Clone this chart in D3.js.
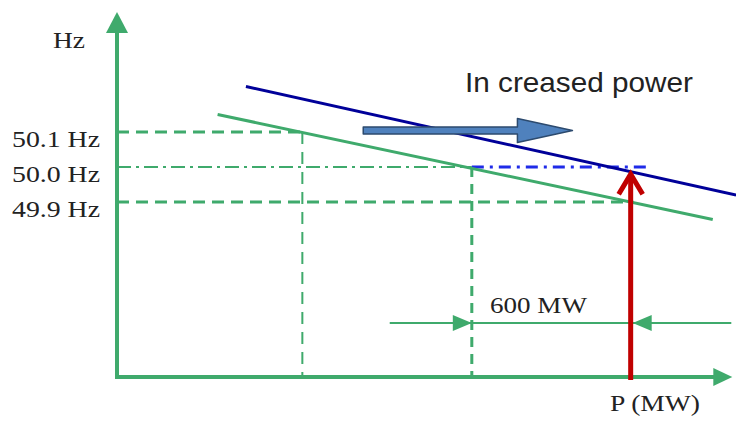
<!DOCTYPE html>
<html>
<head>
<meta charset="utf-8">
<script src="https://cdn.jsdelivr.net/npm/d3@7"></script>
<style>
  html, body { margin: 0; padding: 0; background: #fff; }
  svg { display: block; }
</style>
</head>
<body>
<svg id="chart" width="736" height="421"></svg>
<script>
// ---- data ----
const freqLevels = [50.1, 50.0, 49.9];
const freqLabels = ["50.1 Hz", "50.0 Hz", "49.9 Hz"];
const powerMarks = [700, 1340, 1940];          // MW: old setpoint, before, after (+600 MW)
const droopOld = [{p: 380, f: 50.15}, {p: 2250, f: 49.85}];
const droopNew = [{p: 487, f: 50.23}, {p: 2338, f: 49.92}];
const blueRefEnd = 2015;                        // end of blue 50.0 Hz reference
const line499End = 1950;
const shiftArrow = {p0: 930, p1: 1720, f: 50.1};
const dimLine = {p0: 1030, p1: 2320, label: "600 MW"};
const axisMax = {p: 2320, f: 50.44};
const axisLabels = {y: "Hz", x: "P (MW)", note: "In creased power"};

// ---- scales ----
const x = d3.scaleLinear().domain([0, 2300]).range([117, 726]);
const y = d3.scaleLinear().domain([49.4, 50.44]).range([377, 13]);

const svg = d3.select("#chart");
const GREEN = "#3FAA6C", BLUE = "#000099", BRIGHT = "#1F2BE8", RED = "#C00000";
const serif = "'Liberation Serif', 'Times New Roman', serif";

// reference horizontal lines
svg.append("line").attr("x1", x(0)).attr("x2", x(powerMarks[0]))
  .attr("y1", y(freqLevels[0])).attr("y2", y(freqLevels[0]))
  .attr("stroke", GREEN).attr("stroke-width", 3).attr("stroke-dasharray", "12,7");
svg.append("line").attr("x1", x(0)).attr("x2", x(powerMarks[1]))
  .attr("y1", y(freqLevels[1])).attr("y2", y(freqLevels[1]))
  .attr("stroke", GREEN).attr("stroke-width", 2).attr("stroke-dasharray", "14,5,3,5");
svg.append("line").attr("x1", x(0)).attr("x2", x(line499End))
  .attr("y1", y(freqLevels[2])).attr("y2", y(freqLevels[2]))
  .attr("stroke", GREEN).attr("stroke-width", 3).attr("stroke-dasharray", "12,7");
svg.append("line").attr("x1", x(powerMarks[1])).attr("x2", x(blueRefEnd))
  .attr("y1", y(freqLevels[1])).attr("y2", y(freqLevels[1]))
  .attr("stroke", BRIGHT).attr("stroke-width", 3).attr("stroke-dasharray", "12,6,3,6");

// vertical dashed lines
svg.append("line").attr("x1", x(powerMarks[0])).attr("x2", x(powerMarks[0]))
  .attr("y1", y(freqLevels[0])).attr("y2", y(49.4))
  .attr("stroke", GREEN).attr("stroke-width", 2).attr("stroke-dasharray", "12,8");
svg.append("line").attr("x1", x(powerMarks[1])).attr("x2", x(powerMarks[1]))
  .attr("y1", y(freqLevels[1])).attr("y2", y(49.4))
  .attr("stroke", GREEN).attr("stroke-width", 3).attr("stroke-dasharray", "10,7");

// droop lines
const line = d3.line().x(d => x(d.p)).y(d => y(d.f));
svg.append("path").attr("d", line(droopOld)).attr("fill", "none")
  .attr("stroke", GREEN).attr("stroke-width", 3);
svg.append("path").attr("d", line(droopNew)).attr("fill", "none")
  .attr("stroke", BLUE).attr("stroke-width", 3);

// axes
svg.append("line").attr("x1", x(0)).attr("x2", x(0)).attr("y1", y(49.4) + 2).attr("y2", y(axisMax.f) + 18)
  .attr("stroke", GREEN).attr("stroke-width", 4);
svg.append("line").attr("x1", x(0) - 2).attr("x2", x(axisMax.p) - 16).attr("y1", y(49.4)).attr("y2", y(49.4))
  .attr("stroke", GREEN).attr("stroke-width", 4);
svg.append("path").attr("fill", GREEN)
  .attr("d", `M${x(0)},${y(axisMax.f) - 1} L${x(0) - 11},${y(axisMax.f) + 20} L${x(0) + 11},${y(axisMax.f) + 20} Z`);
svg.append("path").attr("fill", GREEN)
  .attr("d", `M${x(axisMax.p) + 1},${y(49.4)} L${x(axisMax.p) - 18},${y(49.4) - 9} L${x(axisMax.p) - 18},${y(49.4) + 9} Z`);

// dimension line (600 MW)
const dimY = 323;
svg.append("line").attr("x1", x(dimLine.p0)).attr("x2", x(dimLine.p1))
  .attr("y1", dimY).attr("y2", dimY).attr("stroke", GREEN).attr("stroke-width", 2);
svg.append("path").attr("fill", GREEN)
  .attr("d", `M${x(powerMarks[1])},${dimY} L${x(powerMarks[1]) - 19},${dimY - 8} L${x(powerMarks[1]) - 19},${dimY + 8} Z`);
svg.append("path").attr("fill", GREEN)
  .attr("d", `M${x(powerMarks[2]) + 2},${dimY} L${x(powerMarks[2]) + 21},${dimY - 8} L${x(powerMarks[2]) + 21},${dimY + 8} Z`);

// red arrow
const rx = x(powerMarks[2]), rTip = y(49.988);
svg.append("line").attr("x1", rx).attr("x2", rx).attr("y1", y(49.4) + 3).attr("y2", rTip + 3)
  .attr("stroke", RED).attr("stroke-width", 5);
svg.append("path").attr("fill", "none").attr("stroke", RED).attr("stroke-width", 5)
  .attr("stroke-linejoin", "miter")
  .attr("d", `M${rx - 12},${rTip + 23} L${rx},${rTip + 3} L${rx + 12},${rTip + 23}`);

// blue block arrow (increased power)
const ax0 = x(shiftArrow.p0), ax1 = x(shiftArrow.p1), ay = y(shiftArrow.f) - 1.5;
const headLen = 55;
svg.append("path").attr("fill", "#4F81BD").attr("stroke", "#2C4A6E").attr("stroke-width", 1.5)
  .attr("stroke-linejoin", "round")
  .attr("d", `M${ax0},${ay - 3.5} L${ax1 - headLen},${ay - 3.5} L${ax1 - headLen},${ay - 12}
              L${ax1},${ay} L${ax1 - headLen},${ay + 12} L${ax1 - headLen},${ay + 3.5}
              L${ax0},${ay + 3.5} Z`);

// texts
svg.append("text").attr("x", 53).attr("y", 48).attr("font-family", serif).attr("font-size", 24)
  .attr("fill", "#222").attr("textLength", 32).attr("lengthAdjust", "spacingAndGlyphs").text(axisLabels.y);
svg.selectAll("text.flab").data(freqLevels).join("text").attr("class", "flab")
  .attr("x", 12).attr("y", d => y(d) + 15)
  .attr("font-family", serif).attr("font-size", 24).attr("fill", "#222")
  .attr("textLength", 88).attr("lengthAdjust", "spacingAndGlyphs")
  .text((d, i) => freqLabels[i]);
svg.append("text").attr("x", 490).attr("y", 313).attr("font-family", serif).attr("font-size", 23)
  .attr("fill", "#222").attr("textLength", 97).attr("lengthAdjust", "spacingAndGlyphs").text(dimLine.label);
svg.append("text").attr("x", 610).attr("y", 411).attr("font-family", serif).attr("font-size", 24)
  .attr("fill", "#222").attr("textLength", 90).attr("lengthAdjust", "spacingAndGlyphs").text(axisLabels.x);
svg.append("text").attr("x", 465).attr("y", 92).attr("font-family", "'Liberation Sans', Arial, sans-serif")
  .attr("font-size", 28).attr("fill", "#222")
  .attr("textLength", 228).attr("lengthAdjust", "spacingAndGlyphs").text(axisLabels.note);
</script>
</body>
</html>
